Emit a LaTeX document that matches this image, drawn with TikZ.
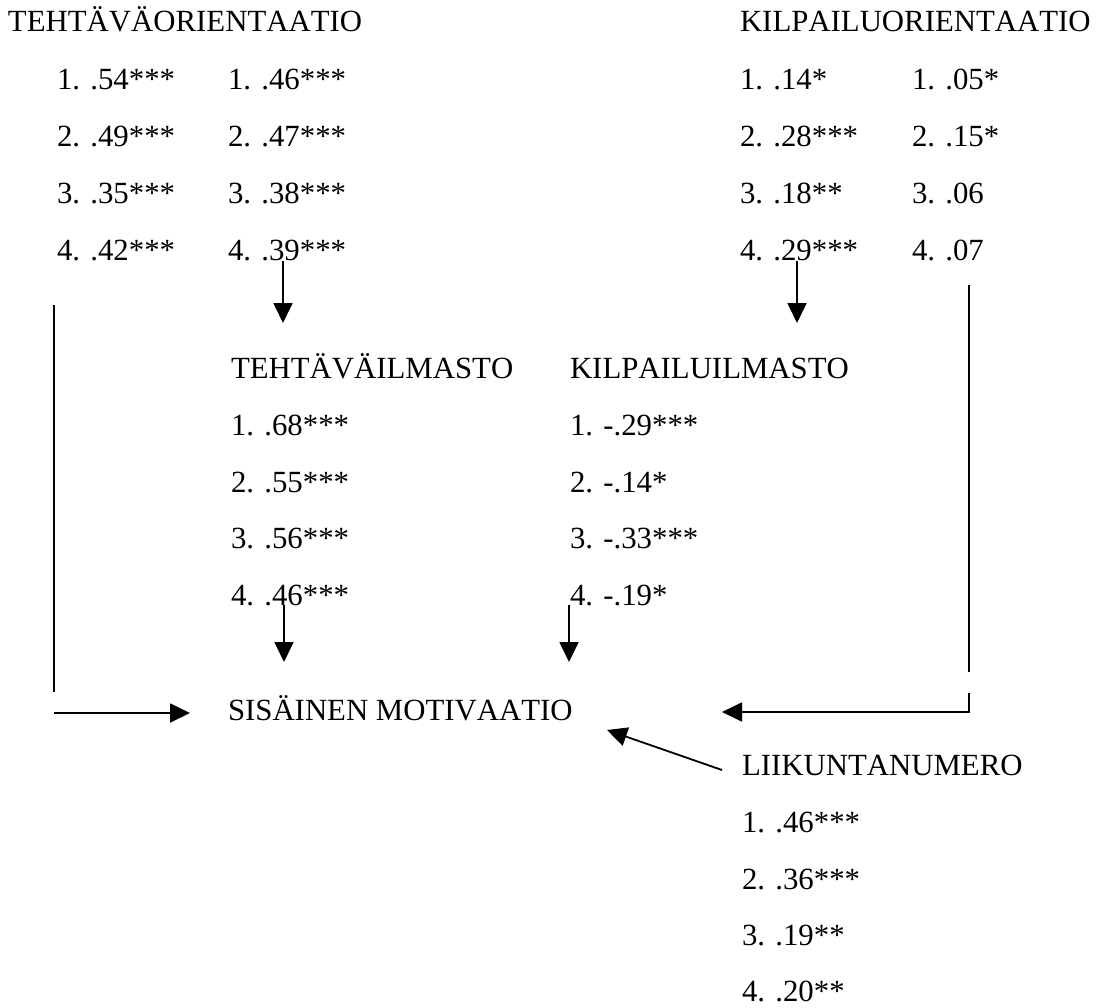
\documentclass[tikz,border=0pt]{standalone}
\usepackage{fontspec}
\setmainfont{Liberation Serif}[Kerning=Off]
\usetikzlibrary{arrows.meta}
\tikzset{
  lbl/.style={anchor=base west, inner sep=0pt, outer sep=0pt, font=\fontsize{30.8pt}{36pt}\selectfont},
  conn/.style={line width=1.8pt},
  arr/.style={conn, -{Triangle[length=20pt,width=19pt]}},
}
\begin{document}
\begin{tikzpicture}[x=1pt,y=-1pt]
\useasboundingbox (0,0) rectangle (1105,1008);
% top-left block
\node[lbl] (to)  at (8,32)  {TEHTÄVÄORIENTAATIO};
\node[lbl] (a1)  at (57,90)  {1. .54***};
\node[lbl] (a2)  at (57,147) {2. .49***};
\node[lbl] (a3)  at (57,204) {3. .35***};
\node[lbl] (a4)  at (57,261) {4. .42***};
\node[lbl] (b1)  at (228,90)  {1. .46***};
\node[lbl] (b2)  at (228,147) {2. .47***};
\node[lbl] (b3)  at (228,204) {3. .38***};
\node[lbl] (b4)  at (228,261) {4. .39***};
% top-right block
\node[lbl] (ko)  at (740,32)  {KILPAILUORIENTAATIO};
\node[lbl] (c1)  at (740,90)  {1. .14*};
\node[lbl] (c2)  at (740,147) {2. .28***};
\node[lbl] (c3)  at (740,204) {3. .18**};
\node[lbl] (c4)  at (740,261) {4. .29***};
\node[lbl] (d1)  at (912,90)  {1. .05*};
\node[lbl] (d2)  at (912,147) {2. .15*};
\node[lbl] (d3)  at (912,204) {3. .06};
\node[lbl] (d4)  at (912,261) {4. .07};
% middle block
\node[lbl] (ti)  at (231,378) {TEHTÄVÄILMASTO};
\node[lbl] (e1)  at (231,435) {1. .68***};
\node[lbl] (e2)  at (231,492) {2. .55***};
\node[lbl] (e3)  at (231,548) {3. .56***};
\node[lbl] (e4)  at (231,605) {4. .46***};
\node[lbl] (ki)  at (570,378) {KILPAILUILMASTO};
\node[lbl] (f1)  at (570,435) {1. -.29***};
\node[lbl] (f2)  at (570,492) {2. -.14*};
\node[lbl] (f3)  at (570,548) {3. -.33***};
\node[lbl] (f4)  at (570,605) {4. -.19*};
% target
\node[lbl] (sm)  at (228,720) {SISÄINEN MOTIVAATIO};
% bottom-right block
\node[lbl] (li)  at (742,775) {LIIKUNTANUMERO};
\node[lbl] (g1)  at (742,832) {1. .46***};
\node[lbl] (g2)  at (742,889) {2. .36***};
\node[lbl] (g3)  at (742,945) {3. .19**};
\node[lbl] (g4)  at (742,1001) {4. .20**};
% free-end coordinates
\coordinate (lt) at (54,305);
\coordinate (lb) at (54,692);
\coordinate (lh) at (54,713);
\coordinate (lhe) at (190,713);
\coordinate (rt) at (969,285);
\coordinate (rb) at (969,672);
\coordinate (re) at (969,693);
\coordinate (rc) at (969,712);
\coordinate (rhe) at (722,712);
\coordinate (dt) at (722,770);
\coordinate (dh) at (607,730);
% connectors
\draw[arr] ([xshift=55pt]b4.base west) -- ++(0,62);
\draw[arr] ([xshift=57pt]c4.base west) -- ++(0,62);
\draw[arr] ([xshift=53pt]e4.base west) -- ++(0,57);
\draw[arr] ([xshift=-1pt]f4.base west) -- ++(0,57);
\draw[conn] (lt) -- (lb);
\draw[arr] (lh) -- (lhe);
\draw[conn] (rt) -- (rb);
\draw[arr] (re) -- (rc) -- (rhe);
\draw[arr] (dt) -- (dh);
\end{tikzpicture}
\end{document}
